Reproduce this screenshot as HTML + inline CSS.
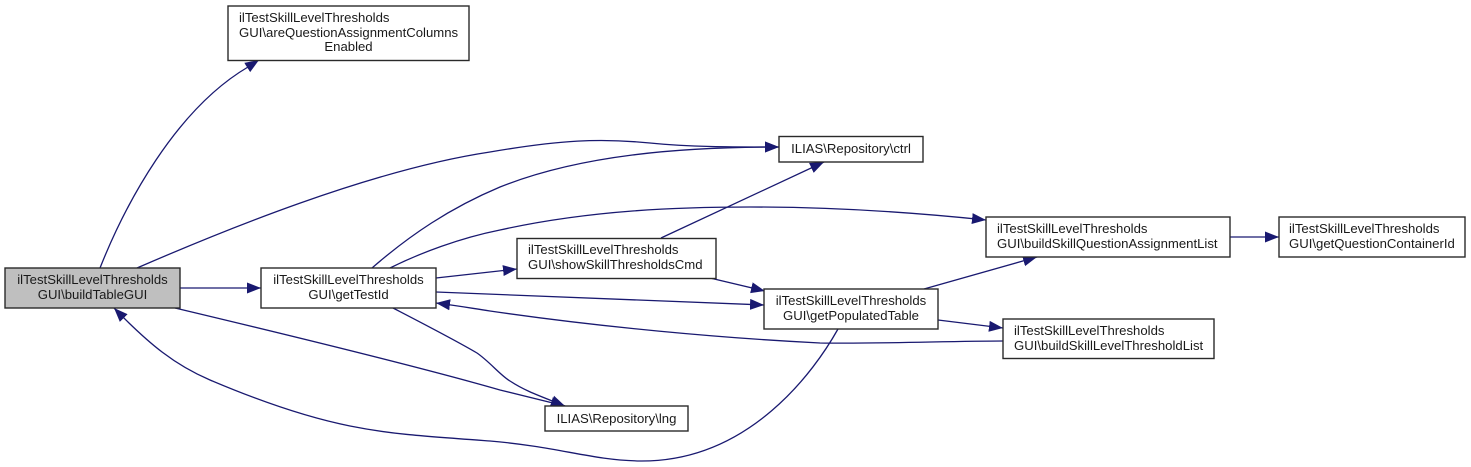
<!DOCTYPE html>
<html>
<head>
<meta charset="utf-8">
<style>
html,body{margin:0;padding:0;background:#fff;}
svg{display:block;}
text{font-family:"Liberation Sans",sans-serif;font-size:13.15px;fill:#1a1a1a;}
.n{fill:#fff;stroke:#2a2a2a;stroke-width:1.4;}
.e{fill:none;stroke:#191970;stroke-width:1.3;marker-end:url(#a);}
</style>
</head>
<body>
<svg width="1471" height="467" viewBox="0 0 1471 467" xmlns="http://www.w3.org/2000/svg">
<defs>
<marker id="a" markerUnits="userSpaceOnUse" markerWidth="16" markerHeight="13" refX="14" refY="6" orient="auto">
<path d="M0,0.500 L14,6 L0,11.500 Z" fill="#191970"/>
</marker>
</defs>

<path class="e" d="M100,268 C125,205 175,110 248,67 L259,60"/>
<path class="e" d="M137,268 C220,232 370,170 490,152 C560,140 600,138 650,143 C690,147 730,147 779,147"/>
<path class="e" d="M372,268 C410,235 450,208 500,187 C580,155 680,147 779,147"/>
<path class="e" d="M390,268 C420,253 460,238 500,230 C590,210 680,207 750,207 C830,207 910,212 986,220"/>
<path class="e" d="M436,278 L517,269"/>
<path class="e" d="M436,292 C540,296 650,300 764,305"/>
<path class="e" d="M1003,341 C950,341 880,344 820,343 C720,338 600,327 490,311 C470,308 460,306 436,303"/>
<path class="e" d="M393,308 C420,322 455,340 477,353 C490,362 500,375 510,381 C525,391 540,396 565,406"/>
<path class="e" d="M175,308 C280,333 420,367 500,390 C520,395 540,400 565,406"/>
<path class="e" d="M838,329 C815,370 750,462 640,461 C590,460 560,447 490,441 C420,436 390,434 350,426 C300,416 250,397 210,380 C175,365 150,345 114,308"/>
<path class="e" d="M661,238 L824,162"/>
<path class="e" d="M710,278 L765,291"/>
<path class="e" d="M924,289 L1037,257"/>
<path class="e" d="M938,320 L1003,328"/>
<path class="e" d="M1230,237 L1279,237"/>
<path class="e" d="M180,288 L261,288"/>

<rect x="5" y="268" width="175" height="40" style="fill:#bfbfbf;stroke:#2a2a2a;stroke-width:1.4"/>
<text x="92.500" y="284" text-anchor="middle">ilTestSkillLevelThresholds</text>
<text x="92.500" y="299" text-anchor="middle">GUI\buildTableGUI</text>

<rect class="n" x="228" y="6" width="241" height="54.500"/>
<text x="239" y="22">ilTestSkillLevelThresholds</text>
<text x="239" y="37">GUI\areQuestionAssignmentColumns</text>
<text x="348.500" y="51" text-anchor="middle">Enabled</text>

<rect class="n" x="261" y="268" width="175" height="40"/>
<text x="348.500" y="284" text-anchor="middle">ilTestSkillLevelThresholds</text>
<text x="348.500" y="299" text-anchor="middle">GUI\getTestId</text>

<rect class="n" x="779" y="136.500" width="144" height="25.500"/>
<text x="851" y="153" text-anchor="middle">ILIAS\Repository\ctrl</text>

<rect class="n" x="517" y="238.500" width="199" height="40"/>
<text x="528" y="254">ilTestSkillLevelThresholds</text>
<text x="528" y="269">GUI\showSkillThresholdsCmd</text>

<rect class="n" x="764" y="289" width="174" height="40"/>
<text x="851" y="305" text-anchor="middle">ilTestSkillLevelThresholds</text>
<text x="851" y="320" text-anchor="middle">GUI\getPopulatedTable</text>

<rect class="n" x="986" y="217" width="244" height="40"/>
<text x="997" y="233">ilTestSkillLevelThresholds</text>
<text x="997" y="248">GUI\buildSkillQuestionAssignmentList</text>

<rect class="n" x="1279" y="217" width="186" height="40"/>
<text x="1289" y="233">ilTestSkillLevelThresholds</text>
<text x="1289" y="248">GUI\getQuestionContainerId</text>

<rect class="n" x="1003" y="319" width="211" height="39.500"/>
<text x="1014" y="335">ilTestSkillLevelThresholds</text>
<text x="1014" y="350">GUI\buildSkillLevelThresholdList</text>

<rect class="n" x="545" y="406" width="143" height="25"/>
<text x="616.500" y="423" text-anchor="middle">ILIAS\Repository\lng</text>
</svg>
</body>
</html>
